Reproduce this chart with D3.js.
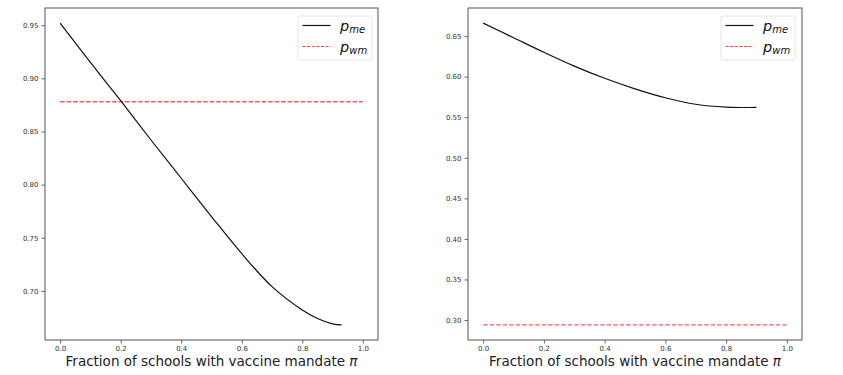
<!DOCTYPE html>
<html>
<head>
<meta charset="utf-8">
<script src="https://cdn.jsdelivr.net/npm/d3@7"></script>
<style>
  body { margin: 0; background: #fff; }
  text { font-family: "DejaVu Sans", sans-serif; }
</style>
</head>
<body>
<svg id="chart" width="843" height="375"></svg>
<script>
// data
var piLeft  = [0.00, 0.10, 0.20, 0.30, 0.40, 0.50, 0.60, 0.70, 0.80, 0.85, 0.90, 0.93];
var pmeLeft = [0.952, 0.915, 0.879, 0.842, 0.806, 0.770, 0.735, 0.704, 0.682, 0.674, 0.669, 0.668];
var piRight  = [0.00, 0.10, 0.20, 0.30, 0.40, 0.50, 0.60, 0.70, 0.80, 0.90];
var pmeRight = [0.666, 0.648, 0.630, 0.613, 0.598, 0.585, 0.574, 0.566, 0.5625, 0.562];
var piWm = [0, 1];
var pwmLeft  = [0.878, 0.878];
var pwmRight = [0.294, 0.294];
var xTicks = [0, 0.2, 0.4, 0.6, 0.8, 1.0];
var yTicksLeft  = [0.70, 0.75, 0.80, 0.85, 0.90, 0.95];
var yTicksRight = [0.30, 0.35, 0.40, 0.45, 0.50, 0.55, 0.60, 0.65];
var xLabel = "Fraction of schools with vaccine mandate ";

var svg = d3.select("#chart");

var panels = [
  {left: 45, right: 378, me: [piLeft, pmeLeft], wm: [piWm, pwmLeft], yTicks: yTicksLeft, legendX: 298},
  {left: 468, right: 802, me: [piRight, pmeRight], wm: [piWm, pwmRight], yTicks: yTicksRight, legendX: 721}
];
var plotTop = 8, plotBottom = 340;

panels.forEach(function(p) {
  var g = svg.append("g");

  // matplotlib style 5% margins
  var allY = p.me[1].concat(p.wm[1]);
  var lo = d3.min(allY), hi = d3.max(allY), pad = (hi - lo) * 0.05;
  var x = d3.scaleLinear().domain([-0.05, 1.05]).range([p.left, p.right]);
  var y = d3.scaleLinear().domain([lo - pad, hi + pad]).range([plotBottom, plotTop]);

  var line = d3.line()
    .x(function(d) { return x(d[0]); })
    .y(function(d) { return y(d[1]); });

  g.append("path")
    .datum(d3.zip(p.wm[0], p.wm[1]))
    .attr("d", line)
    .attr("fill", "none")
    .attr("stroke", "#ff3b3b")
    .attr("stroke-opacity", 0.85)
    .attr("stroke-width", 1.4)
    .attr("stroke-dasharray", "4.5,2");

  g.append("path")
    .datum(d3.zip(p.me[0], p.me[1]))
    .attr("d", line.curve(d3.curveCatmullRom.alpha(0.5)))
    .attr("fill", "none")
    .attr("stroke", "#111")
    .attr("stroke-width", 1.2);

  var xAxis = g.append("g")
    .attr("transform", "translate(0," + plotBottom + ")")
    .call(d3.axisBottom(x).tickValues(xTicks).tickFormat(d3.format(".1f")).tickSizeOuter(0).tickSize(3.5).tickPadding(3));
  var yAxis = g.append("g")
    .attr("transform", "translate(" + p.left + ",0)")
    .call(d3.axisLeft(y).tickValues(p.yTicks).tickFormat(d3.format(".2f")).tickSizeOuter(0).tickSize(3.5).tickPadding(3));
  [xAxis, yAxis].forEach(function(a) {
    a.select(".domain").remove();
    a.selectAll("line").attr("stroke", "#444").attr("stroke-width", 0.8);
    a.selectAll("text").attr("fill", "#333").style("font-size", "7px").style("font-family", "DejaVu Sans");
  });

  // frame
  g.append("rect")
    .attr("x", p.left).attr("y", plotTop)
    .attr("width", p.right - p.left).attr("height", plotBottom - plotTop)
    .attr("fill", "none").attr("stroke", "#555").attr("stroke-width", 1);

  // x label
  var xl = g.append("text")
    .attr("x", (p.left + p.right) / 2)
    .attr("y", 365.5)
    .attr("text-anchor", "middle")
    .attr("fill", "#222")
    .style("font-size", "13.5px");
  xl.append("tspan").text(xLabel);
  xl.append("tspan").style("font-style", "italic").text("\u03c0");

  // legend
  var lg = g.append("g").attr("transform", "translate(" + p.legendX + ",16)");
  lg.append("rect")
    .attr("width", 74).attr("height", 44).attr("rx", 2)
    .attr("fill", "#fff").attr("fill-opacity", 0.8)
    .attr("stroke", "#ddd").attr("stroke-width", 0.8);
  var items = [
    {sub: "me", color: "#111", dash: null},
    {sub: "wm", color: "#ff3b3b", dash: "3,1.6"}
  ];
  items.forEach(function(it, i) {
    var yy = 9.5 + i * 21;
    lg.append("line")
      .attr("x1", 4.5).attr("x2", 32.5).attr("y1", yy).attr("y2", yy)
      .attr("stroke", it.color).attr("stroke-width", 1.2)
      .attr("stroke-dasharray", it.dash);
    var t = lg.append("text")
      .attr("x", 42).attr("y", yy + 5)
      .attr("fill", "#111")
      .style("font-style", "italic");
    t.append("tspan").style("font-size", "14.5px").text("p");
    t.append("tspan").style("font-size", "10px").attr("dy", 2).text(it.sub);
  });
});
</script>
</body>
</html>
